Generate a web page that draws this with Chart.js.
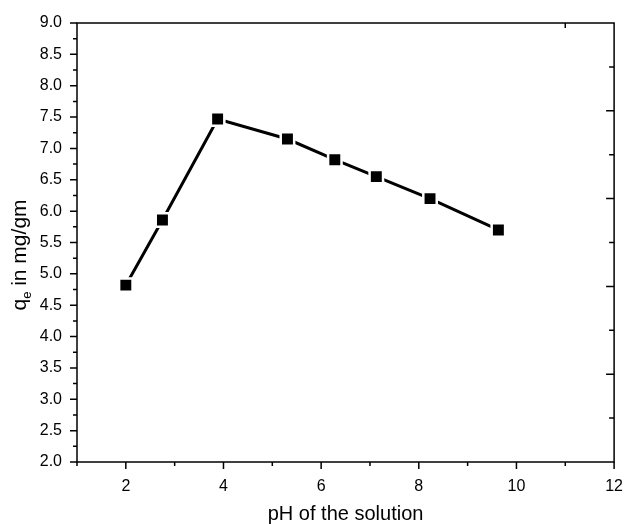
<!DOCTYPE html>
<html>
<head>
<meta charset="utf-8">
<script src="https://cdn.jsdelivr.net/npm/chart.js@4"></script>
<style>
  html, body { margin: 0; padding: 0; background: #fff; }
  #wrap { width: 630px; height: 524px; }
</style>
</head>
<body>
<div id="wrap"><canvas id="phChart" width="630" height="524"></canvas></div>
<script>
// values
const phValues = [2.0, 2.75, 3.88, 5.31, 6.28, 7.13, 8.23, 9.63];
const qeValues = [4.82, 5.86, 7.47, 7.15, 6.82, 6.55, 6.20, 5.70];
const xTickLabels = [2, 4, 6, 8, 10, 12];
const rightTickSteps = [1, 2, 3, 4, 5, 6, 7, 8, 9]; // inner ticks on the right frame, tenths of height
const topTickValues = [11]; // inner tick on the top frame

const fontFamily = '"Liberation Sans", Arial, sans-serif';

// frame, tick marks and the y title (has a subscript so draw it by hand)
const framePlugin = {
    id: 'frame',
    afterDraw(chart) {
        const ctx = chart.ctx;
        const area = chart.chartArea;
        const xs = chart.scales.x;
        const ys = chart.scales.y;
        ctx.save();
        ctx.strokeStyle = '#000';
        ctx.lineWidth = 1.5;
        ctx.strokeRect(area.left, area.top, area.right - area.left, area.bottom - area.top);

        ctx.beginPath();
        // bottom axis: majors at even pH, minors at odd
        for (let v = xs.min; v <= xs.max; v++) {
            const px = xs.getPixelForValue(v);
            const len = xTickLabels.includes(v) ? 7 : 4;
            ctx.moveTo(px, area.bottom);
            ctx.lineTo(px, area.bottom + len);
        }
        topTickValues.forEach(v => {
            const px = xs.getPixelForValue(v);
            ctx.moveTo(px, area.top);
            ctx.lineTo(px, area.top + 5);
        });
        // left axis: majors every 0.5, minors every 0.25
        for (let i = 0; i <= (ys.max - ys.min) * 4; i++) {
            const v = ys.min + i * 0.25;
            const py = ys.getPixelForValue(v);
            const len = i % 2 === 0 ? 7 : 4;
            ctx.moveTo(area.left, py);
            ctx.lineTo(area.left - len, py);
        }
        // right frame: inward ticks
        const h = area.bottom - area.top;
        rightTickSteps.forEach(k => {
            const py = area.bottom - h * k / 10;
            const len = k % 2 === 0 ? 8 : 5;
            ctx.moveTo(area.right, py);
            ctx.lineTo(area.right - len, py);
        });
        ctx.stroke();

        // y title: q_e in mg/gm
        ctx.translate(20, 255);
        ctx.rotate(-Math.PI / 2);
        ctx.fillStyle = '#000';
        ctx.textBaseline = 'middle';
        ctx.textAlign = 'left';
        const big = '21px ' + fontFamily;
        const small = '13px ' + fontFamily;
        ctx.font = big;
        const wq = ctx.measureText('q').width;
        const wr = ctx.measureText(' in mg/gm').width;
        ctx.font = small;
        const we = ctx.measureText('e').width;
        let x0 = -(wq + we + wr) / 2;
        ctx.font = big;
        ctx.fillText('q', x0, 0);
        ctx.font = small;
        ctx.fillText('e', x0 + wq, 7);
        ctx.font = big;
        ctx.fillText(' in mg/gm', x0 + wq + we, 0);
        ctx.restore();
    }
};

new Chart(document.getElementById('phChart'), {
    type: 'scatter',
    data: {
        datasets: [{
            label: 'qe',
            data: phValues.map((x, i) => ({ x: x, y: qeValues[i] })),
            showLine: true,
            borderColor: '#000',
            borderWidth: 3,
            pointStyle: 'rect',
            pointRadius: 9.5,
            pointHoverRadius: 9.5,
            pointBackgroundColor: '#000',
            pointBorderColor: '#fff',
            pointBorderWidth: 2.5
        }]
    },
    options: {
        responsive: false,
        animation: false,
        events: [],
        layout: { padding: { top: 23, right: 11, left: 0, bottom: 0 } },
        plugins: {
            legend: { display: false },
            tooltip: { enabled: false }
        },
        scales: {
            x: {
                type: 'linear',
                min: 1,
                max: 12,
                afterFit: s => { s.height = 62; },
                grid: { display: false },
                border: { display: false },
                ticks: {
                    stepSize: 1,
                    autoSkip: false,
                    maxRotation: 0,
                    padding: 7,
                    color: '#000',
                    font: { family: fontFamily, size: 16 },
                    callback: v => xTickLabels.includes(v) ? String(v) : ''
                },
                title: {
                    display: true,
                    text: 'pH of the solution',
                    color: '#000',
                    font: { family: fontFamily, size: 20, lineHeight: 1 },
                    padding: { top: 0, bottom: 0 }
                }
            },
            y: {
                min: 2,
                max: 9,
                afterFit: s => { s.width = 77; },
                grid: { display: false },
                border: { display: false },
                ticks: {
                    stepSize: 0.5,
                    padding: 7,
                    color: '#000',
                    font: { family: fontFamily, size: 16 },
                    callback: v => v.toFixed(1)
                }
            }
        }
    },
    plugins: [framePlugin]
});
</script>
</body>
</html>
